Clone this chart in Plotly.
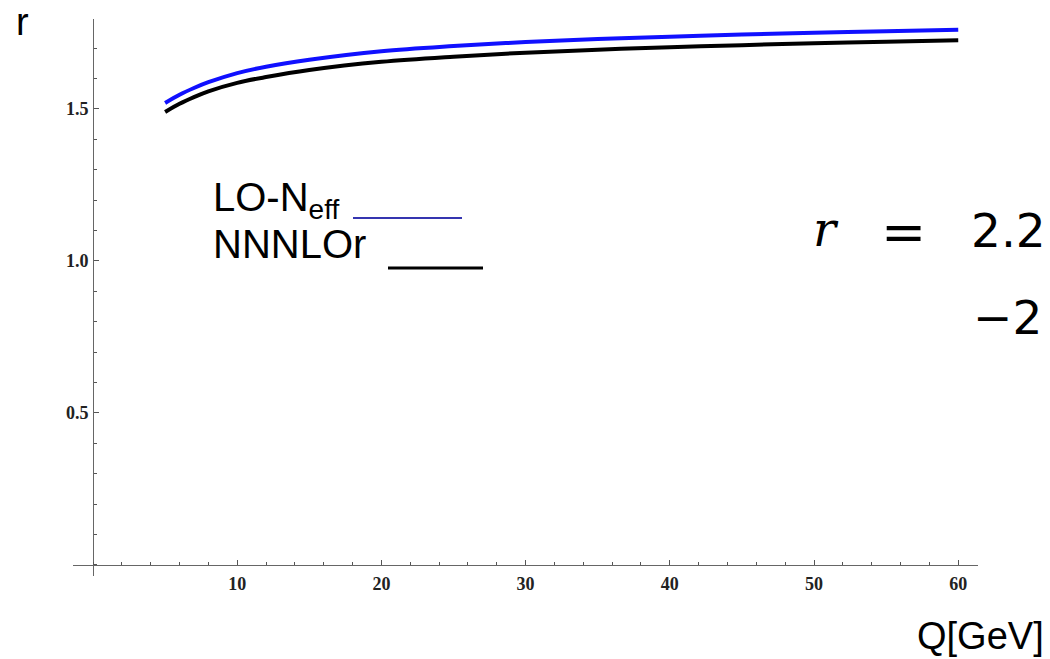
import plotly.graph_objects as go

# ---- data ----
Q = [5, 6, 7, 8, 10, 12, 15, 20, 25, 30, 35, 40, 45, 50, 55, 60]
r_lo_neff = [1.520, 1.547, 1.569, 1.588, 1.618, 1.639, 1.662, 1.690, 1.707,
             1.720, 1.730, 1.738, 1.745, 1.751, 1.756, 1.761]
r_nnnlor = [1.490, 1.517, 1.539, 1.558, 1.586, 1.605, 1.628, 1.655, 1.672,
            1.685, 1.695, 1.703, 1.710, 1.716, 1.721, 1.726]
x_tickvals = [10, 20, 30, 40, 50, 60]
y_tickvals = [0.5, 1.0, 1.5]
y_ticktext = ["0.5", "1.0", "1.5"]

# ---- layout geometry (pixels) ----
WIDTH, HEIGHT = 1050, 659
L, R, T, B = 73, 978, 19, 576
W, H = R - L, B - T


def px(x):
    return (x - L) / W


def py(y):
    return (B - y) / H


fig = go.Figure()
fig.add_trace(go.Scatter(x=Q, y=r_lo_neff, mode="lines", name="LO-Neff",
                         line=dict(color="#1010ff", width=4, shape="spline"),
                         showlegend=False))
fig.add_trace(go.Scatter(x=Q, y=r_nnnlor, mode="lines", name="NNNLOr",
                         line=dict(color="#000000", width=4, shape="spline"),
                         showlegend=False))

tickfont = dict(family="Liberation Serif", size=18, color="#222222", weight="bold")

fig.update_layout(
    width=WIDTH, height=HEIGHT,
    margin=dict(l=L, r=WIDTH - R, t=T, b=HEIGHT - B, pad=0),
    paper_bgcolor="white", plot_bgcolor="white",
    xaxis=dict(range=[-1.387, 61.37], anchor="free", position=py(565),
               showgrid=False, zeroline=False, showline=True,
               linecolor="#666666", linewidth=1,
               tickmode="array", tickvals=x_tickvals,
               ticks="inside", ticklen=5, tickcolor="#555555",
               tickfont=tickfont, ticklabelstandoff=2,
               minor=dict(tickmode="linear", tick0=0, dtick=2, ticks="inside",
                          ticklen=3, tickcolor="#555555")),
    yaxis=dict(range=[-0.0362, 1.796], anchor="free", position=px(93),
               showgrid=False, zeroline=False, showline=True,
               linecolor="#666666", linewidth=1,
               tickmode="array", tickvals=y_tickvals, ticktext=y_ticktext,
               ticks="inside", ticklen=5, tickcolor="#555555",
               tickfont=tickfont, ticklabelstandoff=1,
               minor=dict(tickmode="linear", tick0=0, dtick=0.1, ticks="inside",
                          ticklen=3, tickcolor="#555555")),
)

sans = "Liberation Sans"
ann = [
    dict(text="r", x=px(15), y=py(0), xanchor="left", yanchor="top",
         font=dict(family=sans, size=38, color="black")),
    dict(text="Q[GeV]", x=px(1045), y=py(658), xanchor="right", yanchor="bottom",
         font=dict(family=sans, size=38, color="black")),
    dict(text="LO-N<sub>eff</sub>", x=px(212), y=py(200), xanchor="left", yanchor="middle",
         font=dict(family=sans, size=40, color="black")),
    dict(text="NNNLOr", x=px(212), y=py(244), xanchor="left", yanchor="middle",
         font=dict(family=sans, size=40, color="black")),
    dict(text="<i>r</i>", x=px(812), y=py(229), xanchor="left", yanchor="middle",
         font=dict(family="DejaVu Serif", size=48, color="black")),
    dict(text="=", x=px(880), y=py(232), xanchor="left", yanchor="middle",
         font=dict(family="DejaVu Serif", size=54, color="black")),
    dict(text="2.2", x=px(970), y=py(230), xanchor="left", yanchor="middle",
         font=dict(family="DejaVu Sans", size=47, color="black")),
    dict(text="\u22122", x=px(972), y=py(317), xanchor="left", yanchor="middle",
         font=dict(family="DejaVu Sans", size=47, color="black")),
]
for a in ann:
    fig.add_annotation(xref="paper", yref="paper", showarrow=False, borderpad=0, **a)

# legend sample lines
fig.add_shape(type="line", xref="paper", yref="paper",
              x0=px(353), x1=px(462), y0=py(218), y1=py(218),
              line=dict(color="#3535b0", width=2))
fig.add_shape(type="line", xref="paper", yref="paper",
              x0=px(388), x1=px(483), y0=py(268), y1=py(268),
              line=dict(color="black", width=3))

fig.write_html("out.html")
